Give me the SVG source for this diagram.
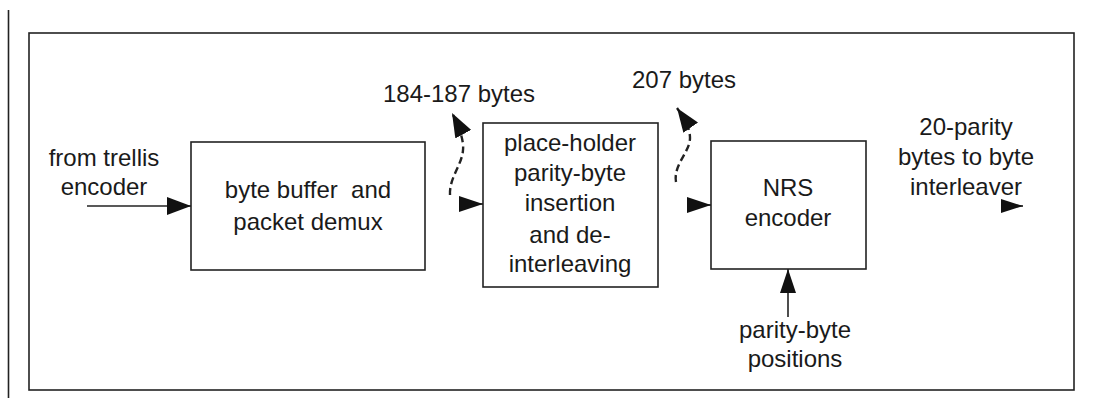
<svg xmlns="http://www.w3.org/2000/svg" width="1093" height="409" viewBox="0 0 1093 409">
  <style>
    .box { fill: #fff; stroke: #222; stroke-width: 1.6; }
    .frame { fill: none; stroke: #222; stroke-width: 1.6; }
    .wire { fill: none; stroke: #222; stroke-width: 1.6; }
    .dash { fill: none; stroke: #222; stroke-width: 2.4; stroke-dasharray: 7 4; }
    text { font-family: "Liberation Sans", Arial, sans-serif; font-size: 24px; fill: #1a1a1a; text-anchor: middle; }
  </style>
  <defs>
    <marker id="arrow" viewBox="0 0 24 16" refX="24" refY="8" markerWidth="24" markerHeight="16" markerUnits="userSpaceOnUse" orient="auto">
      <path d="M0,0 L24,8 L0,16 Z" fill="#111"/>
    </marker>
    <marker id="arrow-big" viewBox="0 0 24 18" refX="24" refY="9" markerWidth="24" markerHeight="18" markerUnits="userSpaceOnUse" orient="auto">
      <path d="M0,0 L24,9 L0,18 Z" fill="#111"/>
    </marker>
    <marker id="arrow-small" viewBox="0 0 22 14" refX="22" refY="7" markerWidth="22" markerHeight="14" markerUnits="userSpaceOnUse" orient="auto">
      <path d="M0,0 L22,7 L0,14 Z" fill="#111"/>
    </marker>
  </defs>

  <rect fill="#fff" x="0" y="0" width="1093" height="409"/>

  <!-- page margin rule and enclosing frame -->
  <line class="frame" x1="8.5" y1="10" x2="8.5" y2="398"/>
  <rect class="frame" x="29" y="33" width="1045" height="357"/>

  <!-- free labels -->
  <g id="input-label">
    <text x="104" y="166">from trellis</text>
    <text x="104" y="195">encoder</text>
  </g>
  <g id="label-184">
    <text x="459" y="102">184-187 bytes</text>
  </g>
  <g id="label-207">
    <text x="684" y="88">207 bytes</text>
  </g>
  <g id="output-label">
    <text x="966" y="135">20-parity</text>
    <text x="966" y="165">bytes to byte</text>
    <text x="966" y="195">interleaver</text>
  </g>
  <g id="positions-label">
    <text x="795" y="338">parity-byte</text>
    <text x="795" y="367">positions</text>
  </g>

  <!-- processing blocks -->
  <g id="byte-buffer">
    <rect class="box" x="191" y="142" width="234" height="128"/>
    <text x="308" y="198" xml:space="preserve">byte buffer  and</text>
    <text x="308" y="230">packet demux</text>
  </g>
  <g id="place-holder">
    <rect class="box" x="483" y="123" width="175" height="164"/>
    <text x="570" y="151">place-holder</text>
    <text x="570" y="181">parity-byte</text>
    <text x="570" y="211">insertion</text>
    <text x="570" y="243">and de-</text>
    <text x="570" y="272">interleaving</text>
  </g>
  <g id="nrs-encoder">
    <rect class="box" x="711" y="141" width="155" height="128"/>
    <text x="788" y="196">NRS</text>
    <text x="788" y="226">encoder</text>
  </g>

  <!-- connectors -->
  <g id="connectors">
    <line class="wire" x1="87" y1="206" x2="191" y2="206" marker-end="url(#arrow-big)"/>
    <line class="wire" x1="460" y1="204" x2="483" y2="204" marker-end="url(#arrow)"/>
    <line class="wire" x1="688" y1="205" x2="711" y2="205" marker-end="url(#arrow)"/>
    <line class="wire" x1="788" y1="317" x2="788" y2="269" marker-end="url(#arrow)"/>
    <line class="wire" x1="1001" y1="206" x2="1023" y2="206" marker-end="url(#arrow-small)"/>
    <path class="dash" d="M450,195 C449,178 462,165 463,150 C464,142 460,128 452,113" marker-end="url(#arrow-big)"/>
    <path class="dash" d="M676,182 C673,165 690,152 690,138 C690,128 684,118 677,108" marker-end="url(#arrow-big)"/>
  </g>
</svg>
